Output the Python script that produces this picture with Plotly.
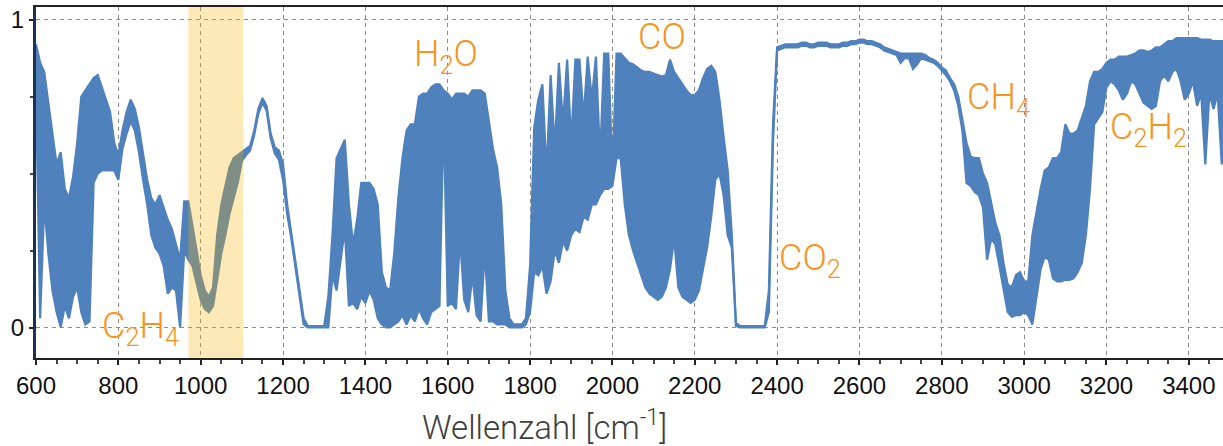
import plotly.graph_objects as go

# Spectrum sampled every 10 cm^-1 from 600 to 3490 cm^-1.
# The dense rotational-line structure is stored as the upper and lower
# envelope of the transmission.
wavenumber = list(range(600, 3500, 10))

transmission_max = [
    0.92, 0.86, 0.83, 0.73, 0.62, 0.53, 0.57, 0.45, 0.42, 0.49,   # 600
    0.60, 0.75, 0.77, 0.79, 0.81, 0.82, 0.78, 0.74, 0.70, 0.60,   # 700
    0.56, 0.64, 0.70, 0.74, 0.71, 0.65, 0.57, 0.48, 0.42, 0.40,   # 800
    0.43, 0.39, 0.35, 0.32, 0.27, 0.22, 0.41, 0.41, 0.33, 0.25,   # 900
    0.17, 0.12, 0.10, 0.13, 0.30, 0.40, 0.46, 0.52, 0.55, 0.56,   # 1000
    0.57, 0.58, 0.59, 0.64, 0.71, 0.745, 0.72, 0.63, 0.585, 0.575,  # 1100
    0.53, 0.40, 0.31, 0.22, 0.13, 0.03, 0.005, 0.005, 0.005, 0.005,  # 1200
    0.005, 0.10, 0.30, 0.55, 0.58, 0.61, 0.40, 0.27, 0.35, 0.47,  # 1300
    0.47, 0.47, 0.45, 0.40, 0.18, 0.13, 0.12, 0.24, 0.42, 0.55,   # 1400
    0.64, 0.66, 0.66, 0.75, 0.76, 0.76, 0.78, 0.79, 0.79, 0.77,   # 1500
    0.76, 0.74, 0.76, 0.76, 0.76, 0.75, 0.77, 0.77, 0.77, 0.76,   # 1600
    0.67, 0.58, 0.52, 0.40, 0.12, 0.03, 0.01, 0.01, 0.01, 0.03,   # 1700
    0.20, 0.65, 0.74, 0.79, 0.50, 0.82, 0.58, 0.86, 0.66, 0.87,   # 1800
    0.60, 0.87, 0.87, 0.68, 0.88, 0.74, 0.88, 0.55, 0.89, 0.89,   # 1900
    0.50, 0.89, 0.89, 0.875, 0.86, 0.855, 0.845, 0.835, 0.83, 0.83,  # 2000
    0.825, 0.82, 0.815, 0.82, 0.87, 0.83, 0.81, 0.79, 0.77, 0.755,  # 2100
    0.755, 0.77, 0.81, 0.84, 0.85, 0.83, 0.74, 0.62, 0.51, 0.30,  # 2200
    0.015, 0.005, 0.005, 0.005, 0.005, 0.005, 0.005, 0.005, 0.12, 0.66,  # 2300
    0.91, 0.915, 0.92, 0.92, 0.92, 0.92, 0.925, 0.925, 0.92, 0.92,  # 2400
    0.925, 0.925, 0.925, 0.92, 0.92, 0.92, 0.925, 0.925, 0.93, 0.93,  # 2500
    0.935, 0.935, 0.93, 0.93, 0.925, 0.92, 0.91, 0.905, 0.90, 0.895,  # 2600
    0.89, 0.89, 0.89, 0.89, 0.89, 0.89, 0.885, 0.875, 0.87, 0.86,  # 2700
    0.845, 0.835, 0.81, 0.79, 0.75, 0.68, 0.60, 0.555, 0.55, 0.55,  # 2800
    0.50, 0.47, 0.40, 0.34, 0.30, 0.21, 0.14, 0.13, 0.17, 0.18,   # 2900
    0.15, 0.15, 0.30, 0.38, 0.45, 0.51, 0.52, 0.55, 0.55, 0.57,   # 3000
    0.66, 0.63, 0.63, 0.64, 0.68, 0.72, 0.80, 0.83, 0.83, 0.84,   # 3100
    0.86, 0.87, 0.87, 0.88, 0.88, 0.88, 0.885, 0.89, 0.90, 0.90,  # 3200
    0.895, 0.90, 0.91, 0.91, 0.92, 0.93, 0.93, 0.94, 0.94, 0.94,  # 3300
    0.94, 0.94, 0.94, 0.935, 0.935, 0.935, 0.93, 0.93, 0.93, 0.93,  # 3400
]

transmission_min = [
    0.78, 0.03, 0.40, 0.24, 0.12, 0.05, 0.00, 0.07, 0.03, 0.10,   # 600
    0.13, 0.05, 0.01, 0.02, 0.47, 0.50, 0.51, 0.51, 0.51, 0.51,   # 700
    0.48, 0.58, 0.63, 0.67, 0.64, 0.57, 0.48, 0.40, 0.30, 0.26,   # 800
    0.24, 0.20, 0.11, 0.13, 0.12, 0.00, 0.25, 0.22, 0.20, 0.14,   # 900
    0.09, 0.06, 0.05, 0.07, 0.15, 0.24, 0.30, 0.37, 0.42, 0.47,   # 1000
    0.54, 0.56, 0.575, 0.625, 0.695, 0.73, 0.705, 0.615, 0.565, 0.545,  # 1100
    0.48, 0.37, 0.29, 0.20, 0.11, 0.01, 0.0, 0.0, 0.0, 0.0,       # 1200
    0.0, 0.0, 0.17, 0.12, 0.22, 0.32, 0.07, 0.08, 0.06, 0.10,     # 1300
    0.08, 0.12, 0.09, 0.03, 0.01, 0.0, 0.0, 0.01, 0.02, 0.04,     # 1400
    0.01, 0.04, 0.02, 0.06, 0.03, 0.01, 0.05, 0.06, 0.07, 0.70,   # 1500
    0.07, 0.08, 0.06, 0.29, 0.09, 0.05, 0.17, 0.04, 0.02, 0.25,   # 1600
    0.02, 0.02, 0.01, 0.01, 0.01, 0.0, 0.0, 0.0, 0.0, 0.01,       # 1700
    0.05, 0.18, 0.17, 0.20, 0.11, 0.15, 0.25, 0.21, 0.28, 0.25,   # 1800
    0.30, 0.32, 0.31, 0.36, 0.35, 0.40, 0.40, 0.43, 0.45, 0.45,   # 1900
    0.46, 0.55, 0.55, 0.40, 0.30, 0.25, 0.21, 0.17, 0.13, 0.11,   # 2000
    0.10, 0.09, 0.10, 0.13, 0.19, 0.29, 0.13, 0.10, 0.09, 0.08,   # 2100
    0.09, 0.12, 0.19, 0.26, 0.36, 0.48, 0.50, 0.43, 0.30, 0.26,   # 2200
    0.005, 0.0, 0.0, 0.0, 0.0, 0.0, 0.0, 0.0, 0.05, 0.60,         # 2300
    0.90, 0.905, 0.91, 0.91, 0.91, 0.91, 0.915, 0.915, 0.91, 0.91,  # 2400
    0.915, 0.915, 0.915, 0.91, 0.91, 0.91, 0.915, 0.915, 0.92, 0.92,  # 2500
    0.925, 0.925, 0.92, 0.92, 0.915, 0.91, 0.90, 0.895, 0.89, 0.885,  # 2600
    0.86, 0.875, 0.875, 0.84, 0.855, 0.875, 0.87, 0.865, 0.86, 0.85,  # 2700
    0.835, 0.82, 0.80, 0.77, 0.72, 0.64, 0.47, 0.46, 0.44, 0.43,  # 2800
    0.39, 0.22, 0.29, 0.27, 0.20, 0.13, 0.05, 0.035, 0.04, 0.04,  # 2900
    0.05, 0.04, 0.01, 0.10, 0.19, 0.23, 0.22, 0.16, 0.15, 0.15,   # 3000
    0.155, 0.155, 0.16, 0.18, 0.21, 0.30, 0.45, 0.66, 0.68, 0.70,  # 3100
    0.78, 0.80, 0.79, 0.77, 0.74, 0.76, 0.80, 0.79, 0.76, 0.73,   # 3200
    0.72, 0.71, 0.72, 0.80, 0.82, 0.80, 0.83, 0.84, 0.80, 0.74,   # 3300
    0.76, 0.80, 0.72, 0.76, 0.53, 0.76, 0.71, 0.76, 0.53, 0.70,   # 3400
]

# Highlighted window (cm^-1)
highlight_range = [970, 1104]

# Band labels: (text, wavenumber at left edge, transmission at text middle)
label_texts = ["C<sub>2</sub>H<sub>4</sub>", "H<sub>2</sub>O", "CO",
               "CO<sub>2</sub>", "CH<sub>4</sub>", "C<sub>2</sub>H<sub>2</sub>"]
label_x = [755, 1513, 2057, 2400, 2856, 3204]
label_y = [-0.003, 0.879, 0.945, 0.219, 0.741, 0.643]

x_ticks = [600, 800, 1000, 1200, 1400, 1600, 1800, 2000, 2200, 2400,
           2600, 2800, 3000, 3200, 3400]
y_ticks = [0, 1]

BLUE = "#4F81BD"
ORANGE = "#F7941D"

fig = go.Figure()
fig.add_trace(go.Scatter(
    x=wavenumber, y=transmission_min, mode="lines",
    line=dict(color=BLUE, width=2.2), hoverinfo="skip", showlegend=False))
fig.add_trace(go.Scatter(
    x=wavenumber, y=transmission_max, mode="lines", fill="tonexty",
    fillcolor=BLUE, line=dict(color=BLUE, width=2.2),
    hoverinfo="skip", showlegend=False))

fig.add_shape(type="rect", xref="x", yref="paper",
              x0=highlight_range[0], x1=highlight_range[1], y0=0, y1=1,
              fillcolor="rgba(248,178,0,0.29)", line=dict(width=0),
              layer="above")

for t, x, y in zip(label_texts, label_x, label_y):
    fig.add_annotation(x=x, y=y, xref="x", yref="y", text=t, showarrow=False,
                       xanchor="left", yanchor="middle",
                       font=dict(family="Roboto", size=36, color=ORANGE,
                                 weight=300))

fig.add_annotation(x=0.428, y=-0.193, xref="paper", yref="paper",
                   text="Wellenzahl [cm<sup>-1</sup>]", showarrow=False,
                   xanchor="center", yanchor="middle",
                   font=dict(family="Roboto", size=33, color="#404040",
                             weight=300))

tickfont = dict(family="Liberation Sans, Arial", size=24, color="#111111")

fig.update_layout(
    width=1223, height=446,
    margin=dict(l=36, r=0, t=7, b=88),
    paper_bgcolor="white", plot_bgcolor="white",
    xaxis=dict(range=[600, 3483], tickvals=x_ticks, showgrid=True,
               gridcolor="#8c8c8c", gridwidth=1, griddash="4px,4px",
               zeroline=False, showline=True, linecolor="#222222",
               linewidth=2, mirror=True, ticks="outside", ticklen=5,
               tickwidth=1.5, tickcolor="#222222", tickfont=tickfont,
               minor=dict(dtick=50, tick0=600, ticks="outside", ticklen=4,
                          tickcolor="#444444", showgrid=False)),
    yaxis=dict(range=[-0.099, 1.041], tickvals=y_ticks, showgrid=True,
               gridcolor="#8c8c8c", gridwidth=1, griddash="4px,4px",
               zeroline=False, showline=True, linecolor="#1c3350",
               linewidth=3, ticks="outside", ticklen=4, tickwidth=1.5,
               tickcolor="#222222", tickfont=tickfont,
               minor=dict(tickvals=[0.25, 0.5, 0.75], ticks="outside",
                          ticklen=3, tickcolor="#444444", showgrid=False)),
)

fig.write_html("out.html", config={"displayModeBar": False},
               post_script="document.body.style.margin='0';")
